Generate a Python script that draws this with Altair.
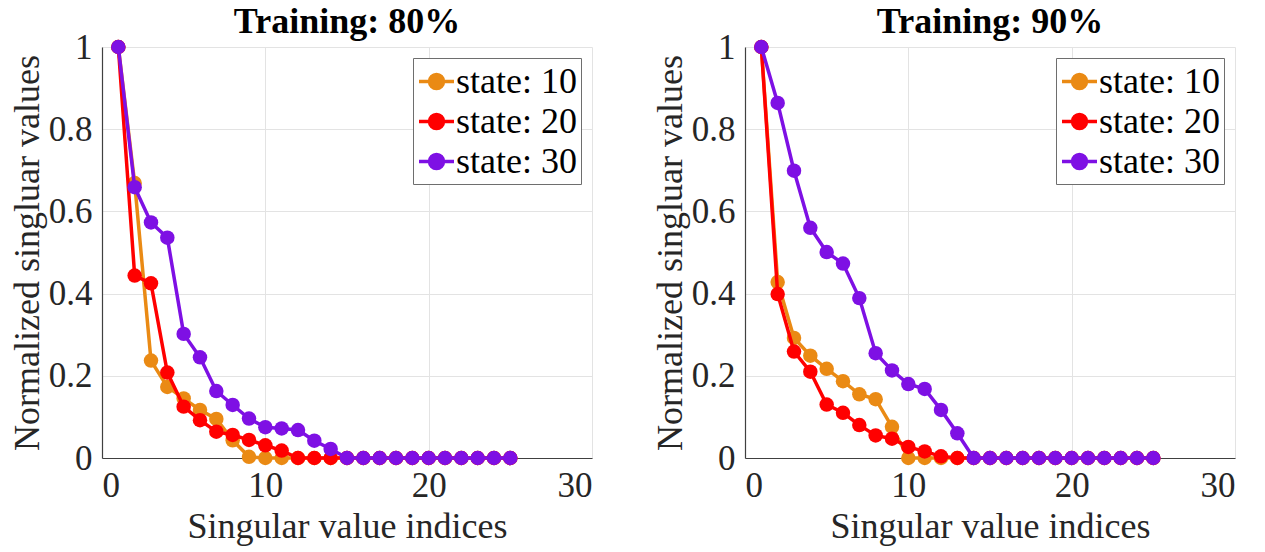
import altair as alt
import pandas as pd

idx = list(range(1, 26))
states = ["state: 10", "state: 20", "state: 30"]
colors = ["#EA8A14", "#FF0000", "#7E10E4"]
panels = ["Training: 80%", "Training: 90%"]

z = lambda n: [0.0] * n

v80_s10 = [1.0, 0.669, 0.237, 0.173, 0.145, 0.117, 0.095, 0.043, 0.003, 0.0, 0.0] + z(14)
v80_s20 = [1.0, 0.444, 0.425, 0.208, 0.125, 0.092, 0.064, 0.056, 0.044, 0.031, 0.018, 0.0, 0.0, 0.0] + z(11)
v80_s30 = [1.0, 0.659, 0.573, 0.536, 0.302, 0.245, 0.163, 0.129, 0.096, 0.075,
           0.072, 0.068, 0.042, 0.022] + z(11)

v90_s10 = [1.0, 0.428, 0.292, 0.249, 0.217, 0.187, 0.155, 0.143, 0.076, 0.0, 0.0] + z(14)
v90_s20 = [1.0, 0.399, 0.259, 0.210, 0.130, 0.110, 0.080, 0.055, 0.047, 0.027,
           0.016, 0.004, 0.0] + z(12)
v90_s30 = [1.0, 0.864, 0.699, 0.560, 0.501, 0.473, 0.389, 0.255, 0.213, 0.180,
           0.168, 0.117, 0.060, 0.0] + z(11)

panel_values = {
    panels[0]: [v80_s10, v80_s20, v80_s30],
    panels[1]: [v90_s10, v90_s20, v90_s30],
}

rows = []
for p in panels:
    for s, vals in zip(states, panel_values[p]):
        for i, v in zip(idx, vals):
            rows.append({"panel": p, "state": s, "idx": i, "value": v})
df = pd.DataFrame(rows)

FONT = "Liberation Serif"

# legend symbol: a line with a filled disc (rings) in the middle
rings = ""
for r in [0.4, 0.29, 0.18, 0.07]:
    rings += f" M {r} 0 A {r} {r} 0 1 1 {-r} 0 A {r} {r} 0 1 1 {r} 0"
sym_path = "M -1 0 L 1 0" + rings

legend = alt.Legend(
    title=None, orient="top-right", offset=11,
    symbolType=sym_path, symbolSize=1225, symbolStrokeWidth=3.5,
    labelFont=FONT, labelFontSize=36, labelColor="black", labelLimit=400,
    labelOffset=0, rowPadding=2,
    strokeColor="#6E6E6E", fillColor="white", padding=4,
    symbolOffset=0,
)

color = alt.Color("state:N", scale=alt.Scale(domain=states, range=colors), legend=legend)

xax = alt.Axis(values=[0, 10, 20, 30], title="Singular value indices", grid=True,
               labelFont=FONT, labelFontSize=35, labelColor="#262626", labelPadding=10,
               titleFont=FONT, titleFontSize=36, titleFontWeight="normal", titleColor="#262626",
               titlePadding=6, ticks=False, domainColor="#404040", gridColor="#E3E3E3")
yax = alt.Axis(values=[0, 0.2, 0.4, 0.6, 0.8, 1.0], format="~g", title="Normalized singluar values",
               grid=True, labelFont=FONT, labelFontSize=35, labelColor="#262626", labelPadding=10,
               titleFont=FONT, titleFontSize=36, titleFontWeight="normal", titleColor="#262626",
               titlePadding=2, ticks=False, domainColor="#404040", gridColor="#E3E3E3")

X = alt.X("idx:Q", scale=alt.Scale(domain=[0, 30], nice=False), axis=xax)
Y = alt.Y("value:Q", scale=alt.Scale(domain=[0, 1], nice=False), axis=yax)


def panel(p):
    layers = []
    for s in states:
        base = alt.Chart(df).transform_filter(
            (alt.datum.panel == p) & (alt.datum.state == s))
        layers.append(base.mark_line(strokeWidth=3.5).encode(x=X, y=Y, color=color))
        layers.append(base.mark_circle(size=210, opacity=1).encode(x=X, y=Y, color=color))
    return alt.layer(*layers).properties(
        width=490, height=411,
        title=alt.TitleParams(p, font=FONT, fontSize=36, fontWeight="bold", color="black",
                              offset=-11, anchor="middle"),
    )


chart = alt.hconcat(panel(panels[0]), panel(panels[1]), spacing=153, bounds="flush").resolve_legend(
    color="independent"
).resolve_scale(color="independent").properties(
    padding={"left": 9, "top": 4, "right": 5, "bottom": 2},
).configure_view(stroke=None).configure_axis(domainWidth=1.2).configure_legend(labelFont=FONT)

chart.save("out.html", embed_options={"renderer": "svg", "actions": False})
